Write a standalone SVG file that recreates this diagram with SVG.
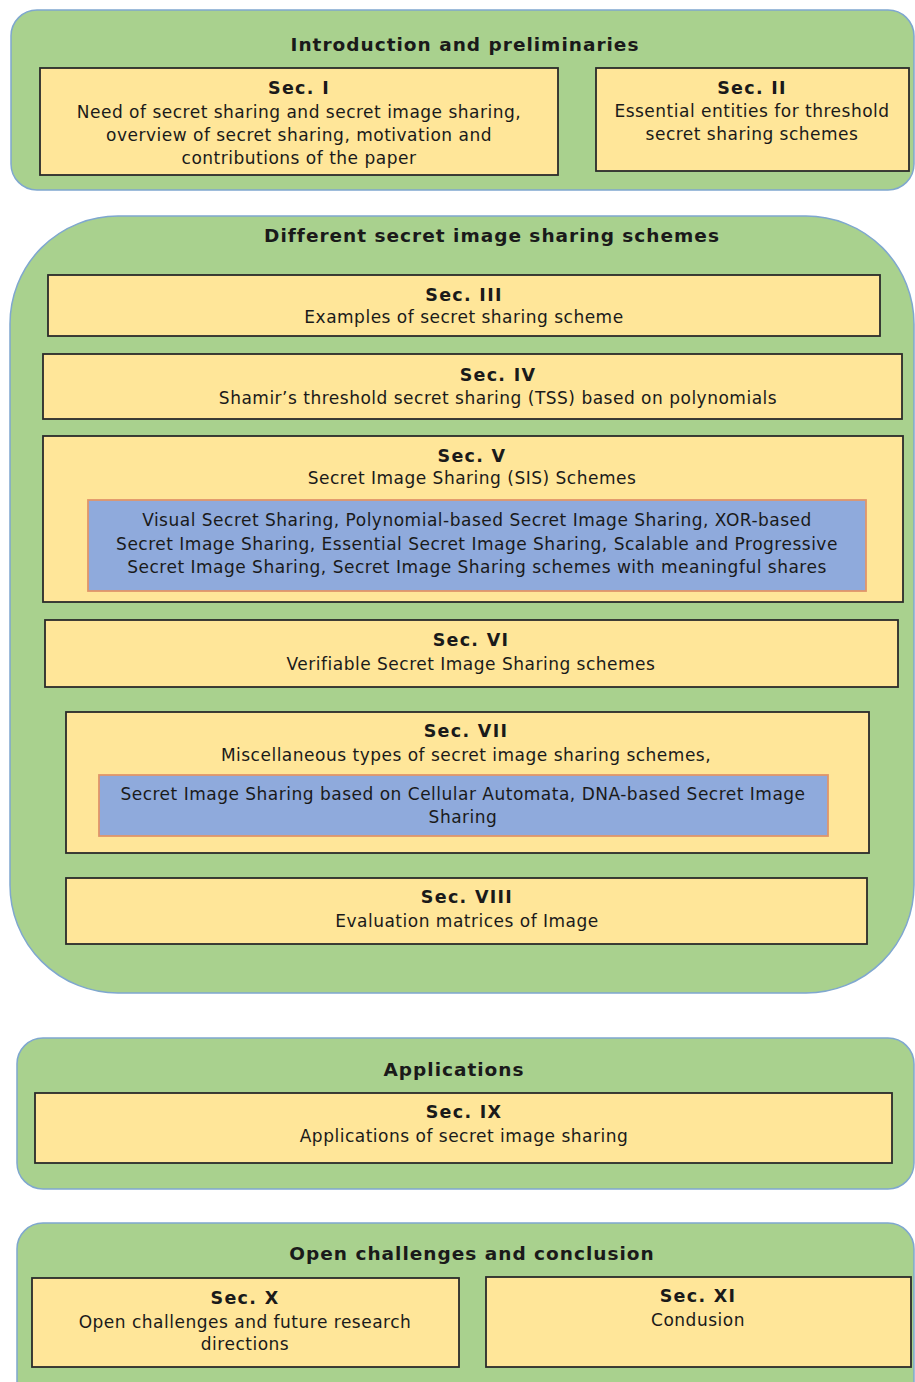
<svg xmlns="http://www.w3.org/2000/svg" width="915" height="1382" viewBox="0 0 915 1382">
<style>
.grp{fill:#A9D18E;stroke:#7FA7CF;stroke-width:1.5}
.sec{fill:#FFE699;stroke:#2B2B2B;stroke-width:1.8}
.sub{fill:#8FAADC;stroke:#E0956A;stroke-width:1.8}
text{font-family:"DejaVu Sans","Verdana",sans-serif;fill:#1a1a1a;text-anchor:middle}
.t{font-size:18.5px;font-weight:bold;letter-spacing:1px}
.h{font-size:17.5px;font-weight:bold;letter-spacing:1.3px}
.b{font-size:17px;letter-spacing:0.5px}
</style>
<rect width="915" height="1382" fill="#ffffff"/>
<g id="intro">
<rect class="grp" x="11" y="10" width="903" height="180" rx="26"/>
<text class="t" x="465" y="51">Introduction and preliminaries</text>
</g>
<g id="sec1">
<rect class="sec" x="40" y="68" width="518" height="107"/>
<text class="h" x="299" y="94">Sec. I</text>
<text class="b" x="299" y="118">Need of secret sharing and secret image sharing,</text>
<text class="b" x="299" y="141">overview of secret sharing, motivation and</text>
<text class="b" x="299" y="164">contributions of the paper</text>
</g>
<g id="sec2">
<rect class="sec" x="596" y="68" width="313" height="103"/>
<text class="h" x="752" y="94">Sec. II</text>
<text class="b" x="752" y="117">Essential entities for threshold</text>
<text class="b" x="752" y="140">secret sharing schemes</text>
</g>
<g id="schemes">
<rect class="grp" x="10" y="216" width="904" height="777" rx="108"/>
<text class="t" x="492" y="242">Different secret image sharing schemes</text>
</g>
<g id="sec3">
<rect class="sec" x="48" y="275" width="832" height="61"/>
<text class="h" x="464" y="301">Sec. III</text>
<text class="b" x="464" y="323">Examples of secret sharing scheme</text>
</g>
<g id="sec4">
<rect class="sec" x="43" y="354" width="859" height="65"/>
<text class="h" x="498" y="381">Sec. IV</text>
<text class="b" x="498" y="404">Shamir’s threshold secret sharing (TSS) based on polynomials</text>
</g>
<g id="sec5">
<rect class="sec" x="43" y="436" width="860" height="166"/>
<text class="h" x="472" y="462">Sec. V</text>
<text class="b" x="472" y="484">Secret Image Sharing (SIS) Schemes</text>
<rect class="sub" x="88" y="500" width="778" height="91"/>
<text class="b" x="477" y="526">Visual Secret Sharing, Polynomial-based Secret Image Sharing, XOR-based</text>
<text class="b" x="477" y="550">Secret Image Sharing, Essential Secret Image Sharing, Scalable and Progressive</text>
<text class="b" x="477" y="573">Secret Image Sharing, Secret Image Sharing schemes with meaningful shares</text>
</g>
<g id="sec6">
<rect class="sec" x="45" y="620" width="853" height="67"/>
<text class="h" x="471" y="646">Sec. VI</text>
<text class="b" x="471" y="670">Verifiable Secret Image Sharing schemes</text>
</g>
<g id="sec7">
<rect class="sec" x="66" y="712" width="803" height="141"/>
<text class="h" x="466" y="737">Sec. VII</text>
<text class="b" x="466" y="761">Miscellaneous types of secret image sharing schemes,</text>
<rect class="sub" x="99" y="775" width="729" height="61"/>
<text class="b" x="463" y="800">Secret Image Sharing based on Cellular Automata, DNA-based Secret Image</text>
<text class="b" x="463" y="823">Sharing</text>
</g>
<g id="sec8">
<rect class="sec" x="66" y="878" width="801" height="66"/>
<text class="h" x="467" y="903">Sec. VIII</text>
<text class="b" x="467" y="927">Evaluation matrices of Image</text>
</g>
<g id="apps">
<rect class="grp" x="17" y="1038" width="897" height="151" rx="26"/>
<text class="t" x="454" y="1076">Applications</text>
</g>
<g id="sec9">
<rect class="sec" x="35" y="1093" width="857" height="70"/>
<text class="h" x="464" y="1118">Sec. IX</text>
<text class="b" x="464" y="1142">Applications of secret image sharing</text>
</g>
<g id="open">
<rect class="grp" x="17" y="1223" width="897" height="200" rx="26"/>
<text class="t" x="472" y="1260">Open challenges and conclusion</text>
</g>
<g id="sec10">
<rect class="sec" x="32" y="1278" width="427" height="89"/>
<text class="h" x="245" y="1304">Sec. X</text>
<text class="b" x="245" y="1328">Open challenges and future research</text>
<text class="b" x="245" y="1350">directions</text>
</g>
<g id="sec11">
<rect class="sec" x="486" y="1277" width="425" height="90"/>
<text class="h" x="698" y="1302">Sec. XI</text>
<text class="b" x="698" y="1326">Condusion</text>
</g>
<g id="connectors"></g>
</svg>
